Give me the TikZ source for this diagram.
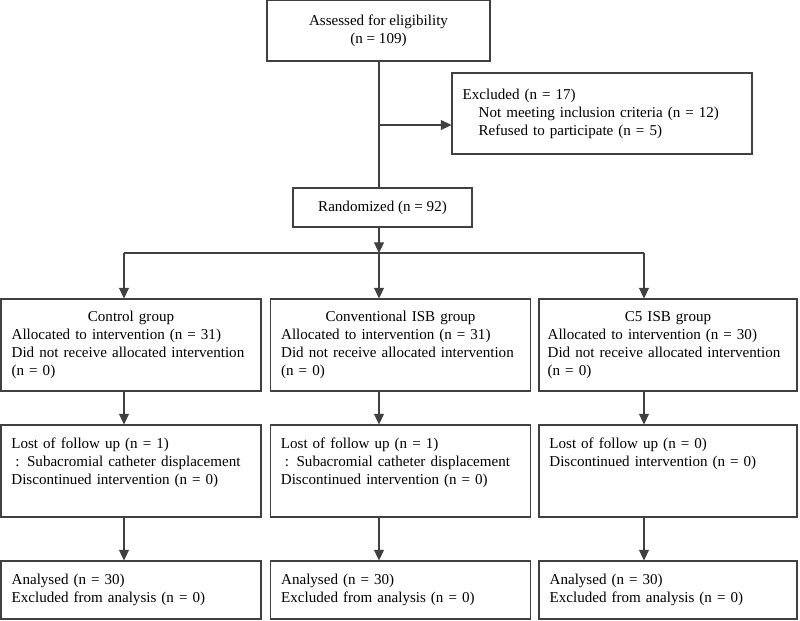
\documentclass[tikz,border=0pt]{standalone}
\usepackage{fontspec}
\setmainfont{Liberation Serif}
\usetikzlibrary{positioning,calc,arrows.meta}

\tikzset{
  box/.style={draw=black!75, line width=0.8pt, rectangle, inner sep=0pt,
    font=\fontsize{11.3}{13.5}\selectfont},
  grp/.style={box, minimum height=69pt, text width=179pt, inner xsep=8pt, align=left},
  note/.style={font=\fontsize{11.3}{13.5}\selectfont, text width=179pt,
    inner xsep=8pt, inner ysep=0pt, align=left, anchor=north west},
  link/.style={draw=black!75, line width=0.8pt},
  arr/.style={link, -{Triangle[length=8pt,width=7.5pt]}},
}

\begin{document}
\begin{tikzpicture}[x=0.75pt,y=-0.75pt]
    \useasboundingbox (0,0) rectangle (800,621);

    % enrolment
    \node[box, minimum width=167.25pt, minimum height=45.75pt, align=center] (assess) at (378.5,30.5)
        {Assessed for eligibility\\(n = 109)};
    \node[box, minimum width=225pt, minimum height=60.75pt, text width=209pt, inner xsep=8pt, align=left] (excl) at (602,113.5)
        {Excluded (n = 17)\\\hspace*{12pt}Not meeting inclusion criteria (n = 12)\\\hspace*{12pt}Refused to participate (n = 5)};
    \node[box, minimum width=134.25pt, minimum height=29.25pt] (rand) at (382.5,207.5) {Randomized (n = 92)};

    \coordinate (exjoin) at (379,125);
    \coordinate (split) at (379,253);
    \coordinate (splitL) at (124,253);
    \coordinate (splitR) at (644,253);

    % allocation
    \node[grp] (ctrl) at (131,345)
        {\makebox[\linewidth]{Control group}\\Allocated to intervention (n = 31)\\Did not receive allocated intervention\\(n = 0)};
    \node[grp] (conv) at (400.5,345)
        {\makebox[\linewidth]{Conventional ISB group}\\Allocated to intervention (n = 31)\\Did not receive allocated intervention\\(n = 0)};
    \node[grp, text width=180.5pt, inner xsep=6.5pt] (cfive) at (668,345)
        {\makebox[\linewidth]{C5 ISB group}\\Allocated to intervention (n = 30)\\Did not receive allocated intervention\\(n = 0)};

    % follow up
    \node[grp] (ctrlLost) at (131,471) {};
    \node[grp] (convLost) at (400.5,471) {};
    \node[grp, text width=177.5pt] (cfiveLost) at (668,471) {};
    \node[note] at ([yshift=-10pt]ctrlLost.north west)
        {Lost of follow up (n = 1)\\\hspace*{3pt}: Subacromial catheter displacement\\Discontinued intervention (n = 0)};
    \node[note] at ([yshift=-10pt]convLost.north west)
        {Lost of follow up (n = 1)\\\hspace*{3pt}: Subacromial catheter displacement\\Discontinued intervention (n = 0)};
    \node[note] at ([yshift=-10pt]cfiveLost.north west)
        {Lost of follow up (n = 0)\\Discontinued intervention (n = 0)};

    % analysis
    \node[grp, minimum height=43.5pt] (ctrlAna) at (131,590)
        {Analysed (n = 30)\\Excluded from analysis (n = 0)};
    \node[grp, minimum height=43.5pt] (convAna) at (400.5,590)
        {Analysed (n = 30)\\Excluded from analysis (n = 0)};
    \node[grp, minimum height=43.5pt, text width=177.5pt] (cfiveAna) at (668,590)
        {Analysed (n = 30)\\Excluded from analysis (n = 0)};

    % connectors
    \draw[link] (assess.south -| split) -- (rand.north -| split);
    \draw[arr] (exjoin) -- (exjoin -| excl.west);
    \draw[arr] (rand.south -| split) -- (split);
    \draw[link] (splitL) -- (splitR);
    \draw[arr] (splitL) -- (splitL |- ctrl.north);
    \draw[arr] (split) -- (split |- conv.north);
    \draw[arr] (splitR) -- (splitR |- cfive.north);

    \draw[arr] (ctrl.south -| splitL) -- (ctrlLost.north -| splitL);
    \draw[arr] (conv.south -| split) -- (convLost.north -| split);
    \draw[arr] (cfive.south -| splitR) -- (cfiveLost.north -| splitR);
    \draw[arr] (ctrlLost.south -| splitL) -- (ctrlAna.north -| splitL);
    \draw[arr] (convLost.south -| split) -- (convAna.north -| split);
    \draw[arr] (cfiveLost.south -| splitR) -- (cfiveAna.north -| splitR);
\end{tikzpicture}
\end{document}
